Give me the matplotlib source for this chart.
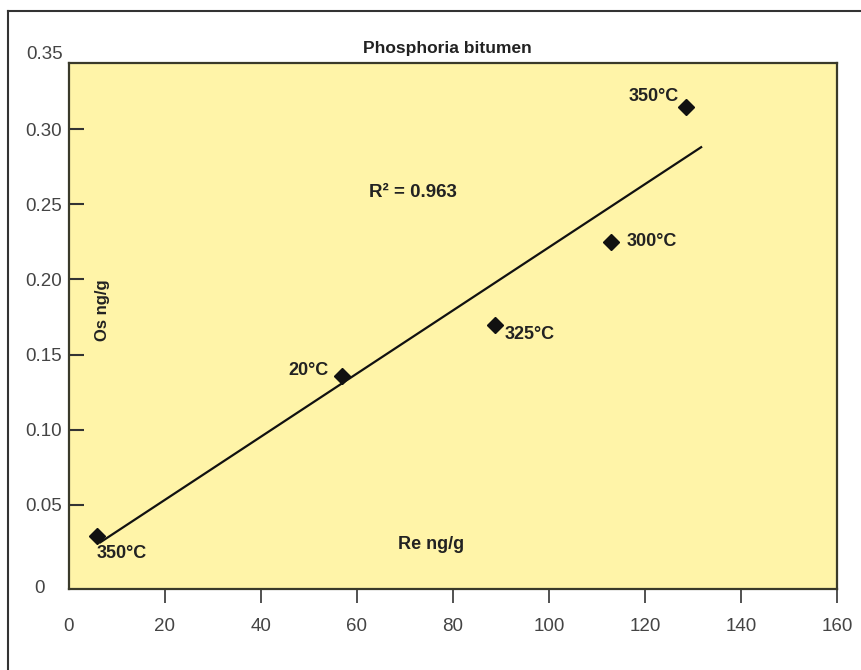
import numpy as np
import matplotlib
matplotlib.use("Agg")
import matplotlib.pyplot as plt
from matplotlib.lines import Line2D

plt.rcParams['font.family'] = ['Liberation Sans', 'DejaVu Sans']

# Re and Os concentrations
re_vals = [5.8, 56.9, 88.8, 112.9, 128.5]
os_vals = [0.029, 0.136, 0.170, 0.225, 0.315]
temps = ['350°C', '20°C', '325°C', '300°C', '350°C']
# label offsets (points) and alignment for each point
lab_off = [(0, -12), (-10, 4), (7, -7), (11, 0), (-5, 7)]
lab_ha = ['left', 'right', 'left', 'left', 'right']

# trend line endpoints as drawn
trend_x = [6.5, 131.7]
trend_y = [0.025, 0.288]

xticks = [0, 20, 40, 60, 80, 100, 120, 140, 160]
yticks = [0.05, 0.10, 0.15, 0.20, 0.25, 0.30]

fig = plt.figure(figsize=(8.61, 6.7), dpi=100)
ax = fig.add_axes([0.0801, 0.1209, 0.892, 0.785])
ax.set_facecolor('#fff4a8')

ax.plot(trend_x, trend_y, color='#111111', lw=1.6)
ax.plot(re_vals, os_vals, 'D', color='#111111', ms=8, ls='none')
for x, y, t, off, ha in zip(re_vals, os_vals, temps, lab_off, lab_ha):
    ax.annotate(t, (x, y), xytext=off, textcoords='offset points', ha=ha, va='center',
                fontsize=13, fontweight='bold', color='#222222')

ax.set_xlim(0, 160)
ax.set_ylim(-0.006, 0.344)
ax.set_xticks(xticks)
ax.set_xticklabels([str(v) for v in xticks])
ax.set_yticks(yticks)
ax.set_yticklabels(['%.2f' % v for v in yticks])
ax.xaxis.get_major_ticks()[0].tick1line.set_visible(False)
ax.tick_params(axis='x', direction='out', length=10, width=1.2, pad=11,
               labelsize=13.5, labelcolor='#444444', color='#333333')
ax.tick_params(axis='y', direction='in', length=11, width=1.5, pad=5,
               labelsize=13.5, labelcolor='#444444', color='#333333')
# 0 and 0.35 labels sit at the box edges in the original
ax.text(-0.008, 0.35, '0.35', transform=ax.get_yaxis_transform(), ha='right', va='center',
        fontsize=13.5, color='#444444')
ax.text(-0.032, -0.006, '0', transform=ax.get_yaxis_transform(), ha='right', va='center',
        fontsize=13.5, color='#444444')

for s in ax.spines.values():
    s.set_color('#3a3a2a')
    s.set_linewidth(1.6)

fig.text(447 / 861, 1 - 48 / 670, 'Phosphoria bitumen', ha='center', va='center',
         fontsize=12.5, fontweight='bold', color='#222222')
ax.text(0.448, 0.753, 'R² = 0.963', transform=ax.transAxes, ha='center', va='center',
        fontsize=13.5, fontweight='bold', color='#222222')
ax.text(0.044, 0.53, 'Os ng/g', transform=ax.transAxes, ha='center', va='center',
        rotation=90, fontsize=12, fontweight='bold', color='#222222')
ax.text(0.472, 0.084, 'Re ng/g', transform=ax.transAxes, ha='center', va='center',
        fontsize=13, fontweight='bold', color='#222222')

# outer frame (only top and left edges visible)
fig.add_artist(Line2D([8 / 861, 8 / 861], [0, 1 - 11 / 670], transform=fig.transFigure,
                      color='#333333', lw=1.5))
fig.add_artist(Line2D([8 / 861, 1], [1 - 11 / 670, 1 - 11 / 670], transform=fig.transFigure,
                      color='#333333', lw=1.5))

fig.savefig('out.png', dpi=100)
